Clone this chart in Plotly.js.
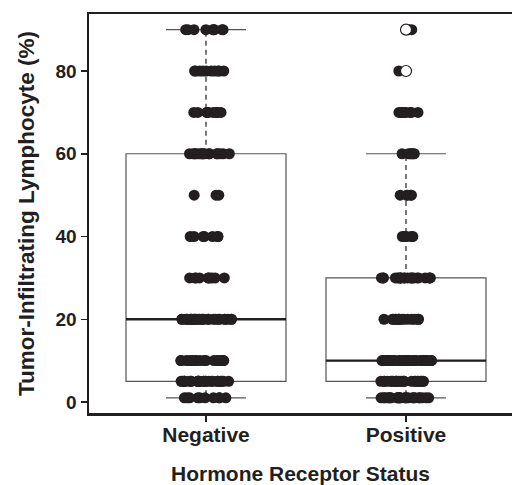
<!DOCTYPE html>
<html><head><meta charset="utf-8">
<script src="https://cdn.plot.ly/plotly-3.0.1.min.js"></script>
<style>html,body{margin:0;padding:0;background:#fff}#chart{width:512px;height:485px}</style>
</head><body><div id="chart"></div>
<script>
// ---- data ----
const groups = ['Negative', 'Positive'];
const levels = [1, 5, 10, 20, 30, 40, 50, 60, 70, 80, 90];
const negativeCounts = [10, 30, 18, 28, 10, 7, 3, 16, 10, 10, 9];
const positiveCounts = [25, 25, 30, 15, 22, 6, 5, 6, 8, 1, 2];
const positiveOpen = [90, 80];
const yTicks = [0, 20, 40, 60, 80];

// ---- helpers ----
function expand(counts) {
  const out = [];
  levels.forEach((v, i) => { for (let k = 0; k < counts[i]; k++) out.push(v); });
  return out;
}
function quantile(s, p) {
  const pos = (s.length - 1) * p, lo = Math.floor(pos), hi = Math.ceil(pos);
  return s[lo] + (s[hi] - s[lo]) * (pos - lo);
}
function stats(vals) {
  const s = vals.slice().sort((a, b) => a - b);
  const q1 = quantile(s, 0.25), med = quantile(s, 0.5), q3 = quantile(s, 0.75);
  const iqr = q3 - q1;
  const lo = s.find(v => v >= q1 - 1.5 * iqr);
  const hi = s.slice().reverse().find(v => v <= q3 + 1.5 * iqr);
  return { q1, med, q3, lo, hi };
}

const negVals = expand(negativeCounts);
const posVals = expand(positiveCounts);
const st = [stats(negVals), stats(posVals.concat(positiveOpen))];
const pos = groups.map((g, i) => i);

const INK = '#231f20';
const BOXLINE = '#555555';
const HALF = 0.4, CAP = 0.2;
const traces = [];

// box rectangles (no whiskers)
traces.push({
  type: 'box', x: pos, boxpoints: false, width: 2 * HALF, whiskerwidth: 0,
  q1: st.map(s => s.q1), median: st.map(s => s.med), q3: st.map(s => s.q3),
  lowerfence: st.map(s => s.q1), upperfence: st.map(s => s.q3),
  fillcolor: '#ffffff', line: { color: BOXLINE, width: 1.2 }, hoverinfo: 'skip'
});
// whisker caps (degenerate boxes)
const capPos = [], capVal = [];
st.forEach((s, i) => { capPos.push(i, i); capVal.push(s.hi, s.lo); });
traces.push({
  type: 'box', x: capPos, boxpoints: false, width: 2 * CAP, whiskerwidth: 0,
  q1: capVal, median: capVal, q3: capVal, lowerfence: capVal, upperfence: capVal,
  fillcolor: 'rgba(0,0,0,0)', line: { color: BOXLINE, width: 1.2 }, hoverinfo: 'skip'
});
// medians (degenerate boxes)
const medVal = st.map(s => s.med);
traces.push({
  type: 'box', x: pos, boxpoints: false, width: 2 * HALF, whiskerwidth: 0,
  q1: medVal, median: medVal, q3: medVal, lowerfence: medVal, upperfence: medVal,
  fillcolor: 'rgba(0,0,0,0)', line: { color: INK, width: 2.4 }, hoverinfo: 'skip'
});

// jittered points
[negVals, posVals].forEach((vals, i) => {
  traces.push({
    type: 'box', y: vals, x0: i, width: 2 * HALF,
    boxpoints: 'all', jitter: 0.32, pointpos: 0,
    fillcolor: 'rgba(0,0,0,0)', line: { width: 0, color: 'rgba(0,0,0,0)' },
    marker: { color: INK, size: 11, line: { width: 0 } },
    hoverinfo: 'y'
  });
});
traces.push({
  type: 'box', y: positiveOpen, x0: 1, width: 2 * HALF,
  boxpoints: 'all', jitter: 0, pointpos: 0,
  fillcolor: 'rgba(0,0,0,0)', line: { width: 0, color: 'rgba(0,0,0,0)' },
  marker: { color: '#ffffff', size: 11, line: { width: 1.2, color: INK } },
  hoverinfo: 'y'
});

// dashed whiskers (black over black points)
const wx = [], wy = [];
st.forEach((s, i) => { wx.push(i, i, null, i, i, null); wy.push(s.q3, s.hi, null, s.q1, s.lo, null); });
traces.push({
  type: 'scatter', mode: 'lines', hoverinfo: 'skip', x: wx, y: wy,
  line: { color: INK, width: 1.2, dash: '5px,4px' }
});

const FONT = '"Liberation Sans", Arial, Helvetica, sans-serif';
const layout = {
  width: 512, height: 485,
  margin: { l: 89, r: 0, t: 14, b: 72, pad: 0 },
  paper_bgcolor: '#ffffff', plot_bgcolor: '#ffffff',
  showlegend: false, boxmode: 'overlay',
  font: { family: FONT, color: INK },
  xaxis: {
    range: [-0.585, 1.53], tickvals: pos, ticktext: groups,
    showgrid: false, zeroline: false,
    showline: true, mirror: true, linecolor: INK, linewidth: 2.5,
    ticks: 'outside', ticklen: 6, tickwidth: 1.5, tickcolor: INK,
    ticklabelstandoff: -5,
    tickfont: { size: 21, weight: 700, color: INK },
    title: { text: 'Hormone Receptor Status', font: { size: 21, weight: 700, color: INK }, standoff: 26 }
  },
  yaxis: {
    range: [-2.66, 93.78], tickvals: yTicks,
    showgrid: false, zeroline: false,
    showline: true, linecolor: INK, linewidth: 2.5,
    ticks: 'outside', ticklen: 6, tickwidth: 1.5, tickcolor: INK,
    tickfont: { size: 19, weight: 700, color: INK },
    title: { text: 'Tumor-Infiltrating Lymphocyte (%)', font: { size: 22.5, weight: 700, color: INK }, standoff: 15 }
  }
};

Plotly.newPlot('chart', traces, layout, { displayModeBar: false, staticPlot: true });
</script>
</body></html>
